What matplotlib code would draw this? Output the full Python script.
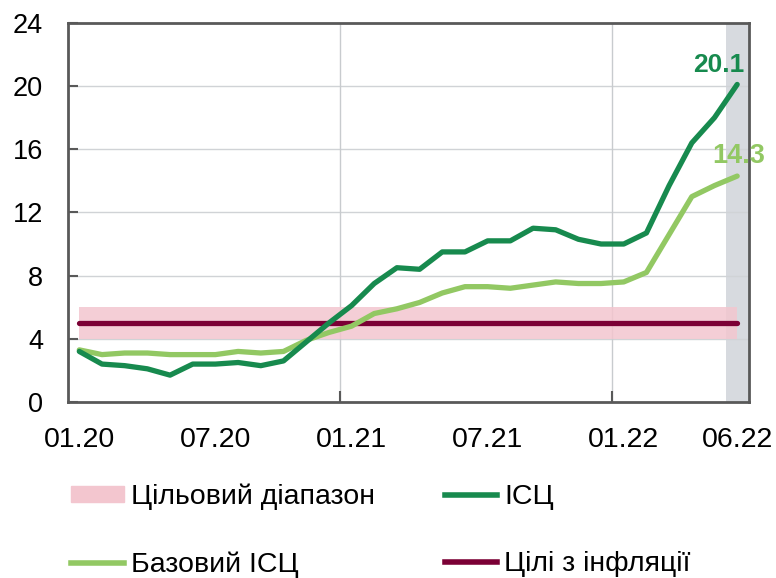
import matplotlib
matplotlib.use('Agg')
import matplotlib.pyplot as plt
from matplotlib.patches import Patch
from matplotlib.lines import Line2D
import numpy as np

months = ['01.20', '02.20', '03.20', '04.20', '05.20', '06.20', '07.20', '08.20', '09.20', '10.20',
          '11.20', '12.20', '01.21', '02.21', '03.21', '04.21', '05.21', '06.21', '07.21', '08.21',
          '09.21', '10.21', '11.21', '12.21', '01.22', '02.22', '03.22', '04.22', '05.22', '06.22']
cpi = [3.2, 2.4, 2.3, 2.1, 1.7, 2.4, 2.4, 2.5, 2.3, 2.6, 3.8, 5.0,
       6.1, 7.5, 8.5, 8.4, 9.5, 9.5, 10.2, 10.2, 11.0, 10.9, 10.3, 10.0,
       10.0, 10.7, 13.7, 16.4, 18.0, 20.1]
core = [3.3, 3.0, 3.1, 3.1, 3.0, 3.0, 3.0, 3.2, 3.1, 3.2, 3.9, 4.4,
        4.8, 5.6, 5.9, 6.3, 6.9, 7.3, 7.3, 7.2, 7.4, 7.6, 7.5, 7.5,
        7.6, 8.2, 10.6, 13.0, 13.7, 14.3]
target = 5.0
band_lo, band_hi = 4.0, 6.0
tick_idx = [0, 6, 12, 18, 24, 29]

c_cpi = '#178a4e'
c_core = '#92c863'
c_target = '#7b0035'
c_band = '#f3c6cf'
c_spine = '#595959'

plt.rcParams['font.family'] = ['Liberation Sans', 'DejaVu Sans']

x = np.arange(len(months))

fig = plt.figure(figsize=(7.76, 5.78), dpi=100)
ax = fig.add_axes([0.0876, 0.3045, 0.877, 0.656])

ax.axvspan(28.5, 29.5, color='#d7dadf', zorder=0, lw=0)
for yv in [4, 8, 12, 16, 20]:
    ax.axhline(yv, color='#d0d3d6', lw=1, zorder=0.5)
for xv in [11.5, 23.5]:
    ax.axvline(xv, color='#c8cbce', lw=1, zorder=0.5)

ax.fill_between(x, band_lo, band_hi, color=c_band, alpha=0.85, lw=0, zorder=1)
ax.plot(x, [target] * len(x), color=c_target, lw=3.8, solid_capstyle='round', zorder=3)
ax.plot(x, core, color=c_core, lw=3.8, solid_capstyle='round', solid_joinstyle='round', zorder=4)
ax.plot(x, cpi, color=c_cpi, lw=3.8, solid_capstyle='round', solid_joinstyle='round', zorder=5)

ax.text(29.32, 20.9, '%.1f' % cpi[-1], color=c_cpi, fontsize=19, fontweight='bold',
        ha='right', va='baseline')
ax.text(29.05, 15.1, '%.1f' % core[-1], color=c_core, fontsize=19.5, fontweight='bold',
        ha='center', va='baseline')

ax.set_xlim(-0.5, 29.5)
ax.set_ylim(0, 24)
ax.set_yticks(range(0, 25, 4))
ax.set_yticklabels([str(v) for v in range(0, 25, 4)], fontsize=19.5)
ax.tick_params(axis='y', direction='in', length=7, width=1.5, color=c_spine, pad=18)

ax.set_xticks([11.5, 23.5])
ax.set_xticklabels(['', ''])
ax.tick_params(axis='x', direction='in', length=8, width=1.5, color=c_spine)
ax.set_xticks(tick_idx, minor=True)
ax.set_xticklabels([months[i] for i in tick_idx], minor=True, fontsize=20.5)
ax.tick_params(axis='x', which='minor', length=0, pad=18)

for s in ax.spines.values():
    s.set_color(c_spine)
    s.set_linewidth(2)

handles = [Patch(color=c_band, label='Цільовий діапазон'),
           Line2D([], [], color=c_core, lw=4, label='Базовий ІСЦ'),
           Line2D([], [], color=c_cpi, lw=4, label='ІСЦ'),
           Line2D([], [], color=c_target, lw=4, label='Цілі з інфляції')]
fig.legend(handles=handles, ncol=2, loc='upper left',
           bbox_to_anchor=(0.077, 0.183), frameon=False, prop={'size': 20.5},
           handlelength=1.85, handleheight=0.5, handletextpad=0.25, columnspacing=2.45,
           labelspacing=1.45, borderaxespad=0)

fig.savefig('out.png', dpi=100)
